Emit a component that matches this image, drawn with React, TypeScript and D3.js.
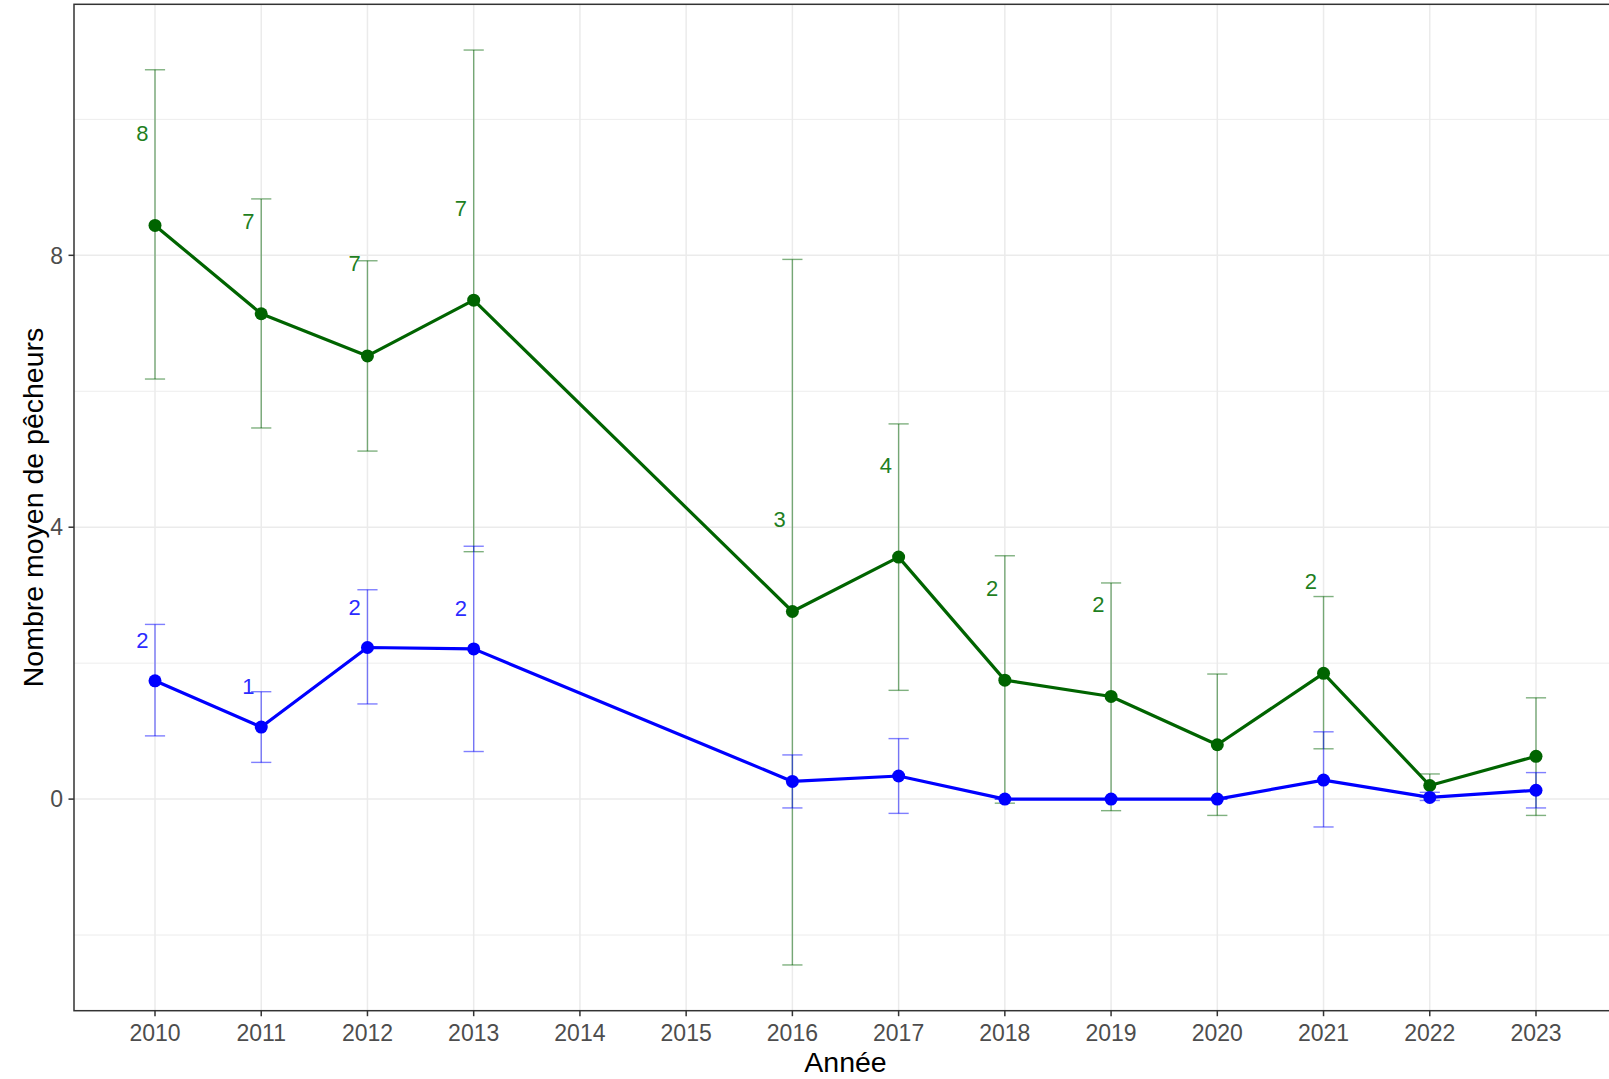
import React from "react";
import * as d3 from "d3";

const years = [2010, 2011, 2012, 2013, 2016, 2017, 2018, 2019, 2020, 2021, 2022, 2023];
const greenMean = [8.44, 7.14, 6.52, 7.34, 2.76, 3.56, 1.75, 1.51, 0.8, 1.85, 0.2, 0.63];
const greenLow = [6.18, 5.46, 5.12, 3.64, -2.44, 1.6, -0.06, -0.17, -0.24, 0.74, 0.03, -0.24];
const greenHigh = [10.73, 8.83, 7.92, 11.02, 7.94, 5.52, 3.58, 3.18, 1.84, 2.98, 0.37, 1.49];
const greenLabels = ["8", "7", "7", "7", "3", "4", "2", "2", "", "2", "", ""];
const blueMean = [1.74, 1.06, 2.23, 2.21, 0.26, 0.34, 0, 0, 0, 0.28, 0.025, 0.13];
const blueLow = [0.93, 0.54, 1.4, 0.7, -0.13, -0.21, 0, 0, 0, -0.41, -0.02, -0.13];
const blueHigh = [2.57, 1.58, 3.08, 3.72, 0.65, 0.89, 0, 0, 0, 0.99, 0.1, 0.39];
const blueLabels = ["2", "1", "2", "2", "", "", "", "", "", "", "", ""];
const xTicks = d3.range(2010, 2024);
const yMajor = [0, 4, 8];
const yMinor = [-2, 2, 6, 10];

const W = 1609;
const H = 1079;
const left = 74;
const right = 1617;
const top = 4.3;
const bottom = 1010.7;

const series = [
  { mean: greenMean, low: greenLow, high: greenHigh, labels: greenLabels, line: "#006400", err: "rgba(0,100,0,0.5)", text: "#1f7f1f", nudgeY: 1.36 },
  { mean: blueMean, low: blueLow, high: blueHigh, labels: blueLabels, line: "#0000FF", err: "rgba(0,0,255,0.5)", text: "#2b2bff", nudgeY: 0.6 },
];

export default function App() {
  const x = d3.scaleLinear().domain([2009.2375, 2023.7625]).range([left, right]);
  const y = d3.scaleLinear().domain([-3.113, 11.693]).range([bottom, top]);
  const line = d3.line<number>().x((_, i) => x(years[i])).y((d) => y(d));
  const capHalf = 0.095;
  const nudgeX = -0.12;
  const font = "'Liberation Sans', Arial, sans-serif";

  return (
    <svg width={W} height={H} style={{ position: "absolute", left: 0, top: 0, background: "#fff" }} fontFamily={font}>
      <rect x={0} y={0} width={W} height={H} fill="#fff" />
      {yMinor.map((v) => (
        <line key={"mn" + v} x1={left} x2={right} y1={y(v)} y2={y(v)} stroke="#EBEBEB" strokeWidth={0.9} />
      ))}
      {yMajor.map((v) => (
        <line key={"mj" + v} x1={left} x2={right} y1={y(v)} y2={y(v)} stroke="#EBEBEB" strokeWidth={1.5} />
      ))}
      {xTicks.map((t) => (
        <line key={"vx" + t} x1={x(t)} x2={x(t)} y1={top} y2={bottom} stroke="#EBEBEB" strokeWidth={1.5} />
      ))}
      {series.map((s, si) => (
        <g key={"err" + si} stroke={s.err} strokeWidth={1.4} fill="none">
          {years.map((yr, i) => (
            <g key={yr}>
              <line x1={x(yr)} x2={x(yr)} y1={y(s.low[i])} y2={y(s.high[i])} />
              <line x1={x(yr - capHalf)} x2={x(yr + capHalf)} y1={y(s.low[i])} y2={y(s.low[i])} />
              <line x1={x(yr - capHalf)} x2={x(yr + capHalf)} y1={y(s.high[i])} y2={y(s.high[i])} />
            </g>
          ))}
        </g>
      ))}
      {series.map((s, si) => (
        <path key={"ln" + si} d={line(s.mean) || ""} fill="none" stroke={s.line} strokeWidth={3.2} strokeLinejoin="round" />
      ))}
      {series.map((s, si) => (
        <g key={"pt" + si} fill={s.line}>
          {years.map((yr, i) => (
            <circle key={yr} cx={x(yr)} cy={y(s.mean[i])} r={6.5} />
          ))}
        </g>
      ))}
      {series.map((s, si) => (
        <g key={"lb" + si} fill={s.text} fontSize={22} textAnchor="middle">
          {years.map((yr, i) =>
            s.labels[i] ? (
              <text key={yr} x={x(yr + nudgeX)} y={y(s.mean[i] + s.nudgeY)} dy="0.36em">
                {s.labels[i]}
              </text>
            ) : null
          )}
        </g>
      ))}
      <rect x={left} y={top} width={right - left} height={bottom - top} fill="none" stroke="#333333" strokeWidth={1.5} />
      {yMajor.map((v) => (
        <g key={"yt" + v}>
          <line x1={left - 5.5} x2={left} y1={y(v)} y2={y(v)} stroke="#333333" strokeWidth={1.5} />
          <text x={left - 11} y={y(v)} dy="0.36em" textAnchor="end" fontSize={23} fill="#4D4D4D">
            {v}
          </text>
        </g>
      ))}
      {xTicks.map((t) => (
        <g key={"xt" + t}>
          <line x1={x(t)} x2={x(t)} y1={bottom} y2={bottom + 5.5} stroke="#333333" strokeWidth={1.5} />
          <text x={x(t)} y={bottom + 30.5} textAnchor="middle" fontSize={23} fill="#4D4D4D">
            {t}
          </text>
        </g>
      ))}
      <text x={(left + right) / 2} y={1072} textAnchor="middle" fontSize={28.5} fill="#000">
        Année
      </text>
      <text
        transform={`translate(43, ${(top + bottom) / 2}) rotate(-90)`}
        textAnchor="middle"
        fontSize={28.5}
        fill="#000"
      >
        Nombre moyen de pêcheurs
      </text>
    </svg>
  );
}
